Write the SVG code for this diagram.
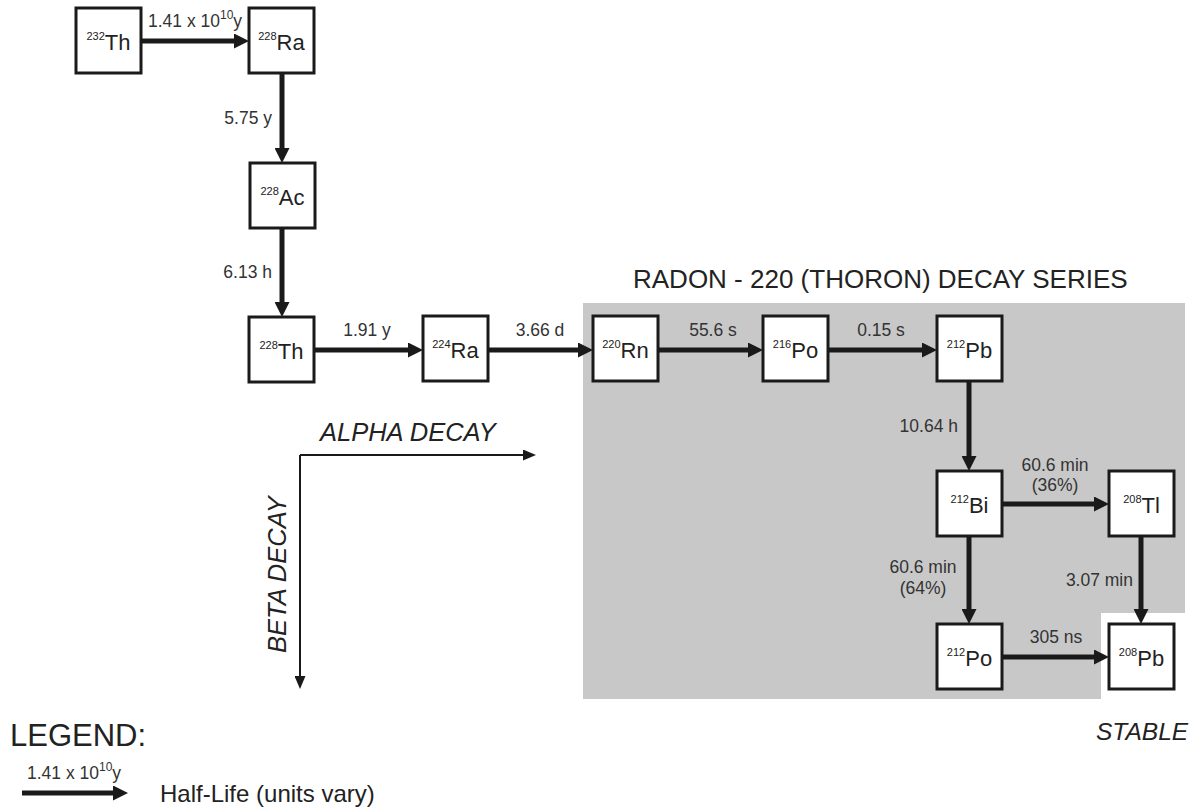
<svg xmlns="http://www.w3.org/2000/svg" width="1197" height="809" viewBox="0 0 1197 809">
<defs>
<style>
.box{fill:#fff;stroke:#1a1a1a;stroke-width:3}
.nt{font-family:"Liberation Sans",Arial,sans-serif;fill:#222;text-anchor:middle}
.sup{font-size:11px}
.el{font-size:22px}
.lbl{font-family:"Liberation Sans",Arial,sans-serif;font-size:17.5px;fill:#333}
.c{text-anchor:middle}
.e{text-anchor:end}
.arr{stroke:#1a1a1a;stroke-width:5;fill:none;marker-end:url(#ah)}
.thin{stroke:#1a1a1a;stroke-width:2;fill:none;marker-end:url(#ahs)}
.big{font-family:"Liberation Sans",Arial,sans-serif;fill:#222}
.it{font-style:italic}
</style>
<marker id="ah" markerUnits="userSpaceOnUse" markerWidth="15" markerHeight="15" viewBox="0 0 15 15" refX="1" refY="7.5" orient="auto"><path d="M0,0 L15,7.5 L0,15 z" fill="#1a1a1a"/></marker>
<marker id="ahs" markerUnits="userSpaceOnUse" markerWidth="13" markerHeight="11" viewBox="0 0 13 11" refX="1" refY="5.5" orient="auto"><path d="M0,0 L13,5.5 L0,11 z" fill="#1a1a1a"/></marker>
</defs>
<rect width="1197" height="809" fill="#fff"/>

<polygon points="583,303 1185,303 1185,613 1101,613 1101,699 583,699" fill="#c8c8c8"/>
<text class="big" x="633" y="288" font-size="26">RADON - 220 (THORON) DECAY SERIES</text>

<g id="connectors">
<line class="arr" x1="142" y1="41" x2="235" y2="41"/>
<line class="arr" x1="282" y1="73" x2="282" y2="149"/>
<line class="arr" x1="282" y1="228" x2="282" y2="303"/>
<line class="arr" x1="314" y1="350" x2="409" y2="350"/>
<line class="arr" x1="488" y1="350" x2="579" y2="350"/>
<line class="arr" x1="658" y1="350" x2="749" y2="350"/>
<line class="arr" x1="828" y1="350" x2="923" y2="350"/>
<line class="arr" x1="969" y1="381" x2="969" y2="457"/>
<line class="arr" x1="1002" y1="504" x2="1095" y2="504"/>
<line class="arr" x1="969" y1="536" x2="969" y2="610"/>
<line class="arr" x1="1141" y1="536" x2="1141" y2="610"/>
<line class="arr" x1="1002" y1="657" x2="1095" y2="657"/>
</g>

<g id="labels">
<text class="lbl" x="148" y="27">1.41 x 10<tspan font-size="12" dy="-8">10</tspan><tspan dy="8">y</tspan></text>
<text class="lbl e" x="272" y="124">5.75 y</text>
<text class="lbl e" x="272" y="278">6.13 h</text>
<text class="lbl c" x="367" y="336">1.91 y</text>
<text class="lbl c" x="540" y="336">3.66 d</text>
<text class="lbl c" x="713" y="336">55.6 s</text>
<text class="lbl c" x="881" y="336">0.15 s</text>
<text class="lbl e" x="958" y="432">10.64 h</text>
<text class="lbl c" x="1055" y="471">60.6 min</text>
<text class="lbl c" x="1055" y="491">(36%)</text>
<text class="lbl c" x="923" y="573">60.6 min</text>
<text class="lbl c" x="923" y="594">(64%)</text>
<text class="lbl e" x="1133" y="586">3.07 min</text>
<text class="lbl c" x="1056" y="643">305 ns</text>
</g>

<g id="n-th232"><rect class="box" x="76" y="8" width="65" height="65"/><text class="nt" x="108.5" y="50"><tspan class="sup" dy="-10">232</tspan><tspan class="el" dy="10">Th</tspan></text></g>
<g id="n-ra228"><rect class="box" x="249" y="8" width="65" height="65"/><text class="nt" x="281.5" y="50"><tspan class="sup" dy="-10">228</tspan><tspan class="el" dy="10">Ra</tspan></text></g>
<g id="n-ac228"><rect class="box" x="250" y="163" width="65" height="65"/><text class="nt" x="282.5" y="205"><tspan class="sup" dy="-10">228</tspan><tspan class="el" dy="10">Ac</tspan></text></g>
<g id="n-th228"><rect class="box" x="249" y="317" width="65" height="65"/><text class="nt" x="281.5" y="359"><tspan class="sup" dy="-10">228</tspan><tspan class="el" dy="10">Th</tspan></text></g>
<g id="n-ra224"><rect class="box" x="423" y="316" width="65" height="65"/><text class="nt" x="455.5" y="358"><tspan class="sup" dy="-10">224</tspan><tspan class="el" dy="10">Ra</tspan></text></g>
<g id="n-rn220"><rect class="box" x="593" y="316" width="65" height="65"/><text class="nt" x="625.5" y="358"><tspan class="sup" dy="-10">220</tspan><tspan class="el" dy="10">Rn</tspan></text></g>
<g id="n-po216"><rect class="box" x="763" y="316" width="65" height="65"/><text class="nt" x="795.5" y="358"><tspan class="sup" dy="-10">216</tspan><tspan class="el" dy="10">Po</tspan></text></g>
<g id="n-pb212"><rect class="box" x="937" y="316" width="65" height="65"/><text class="nt" x="969.5" y="358"><tspan class="sup" dy="-10">212</tspan><tspan class="el" dy="10">Pb</tspan></text></g>
<g id="n-bi212"><rect class="box" x="937" y="471" width="65" height="65"/><text class="nt" x="969.5" y="513"><tspan class="sup" dy="-10">212</tspan><tspan class="el" dy="10">Bi</tspan></text></g>
<g id="n-tl208"><rect class="box" x="1109" y="471" width="65" height="65"/><text class="nt" x="1141.5" y="513"><tspan class="sup" dy="-10">208</tspan><tspan class="el" dy="10">Tl</tspan></text></g>
<g id="n-po212"><rect class="box" x="937" y="624" width="65" height="65"/><text class="nt" x="969.5" y="666"><tspan class="sup" dy="-10">212</tspan><tspan class="el" dy="10">Po</tspan></text></g>
<g id="n-pb208"><rect class="box" x="1109" y="624" width="65" height="65"/><text class="nt" x="1141.5" y="666"><tspan class="sup" dy="-10">208</tspan><tspan class="el" dy="10">Pb</tspan></text></g>

<g id="axes">
<line class="thin" x1="300" y1="455" x2="524" y2="455"/>
<line class="thin" x1="300" y1="455" x2="300" y2="677"/>
<text class="big it" x="320" y="441" font-size="25.5">ALPHA DECAY</text>
<text class="big it" font-size="25.5" transform="translate(286,653) rotate(-90)">BETA DECAY</text>
</g>

<text class="big it" x="1096" y="740" font-size="24.5">STABLE</text>

<g id="legend">
<text class="big" x="10" y="746" font-size="31">LEGEND:</text>
<line class="arr" x1="22" y1="793" x2="114" y2="793"/>
<text class="lbl" x="27" y="779">1.41 x 10<tspan font-size="12" dy="-8">10</tspan><tspan dy="8">y</tspan></text>
<text class="big" x="160" y="802" font-size="24">Half-Life (units vary)</text>
</g>
</svg>
